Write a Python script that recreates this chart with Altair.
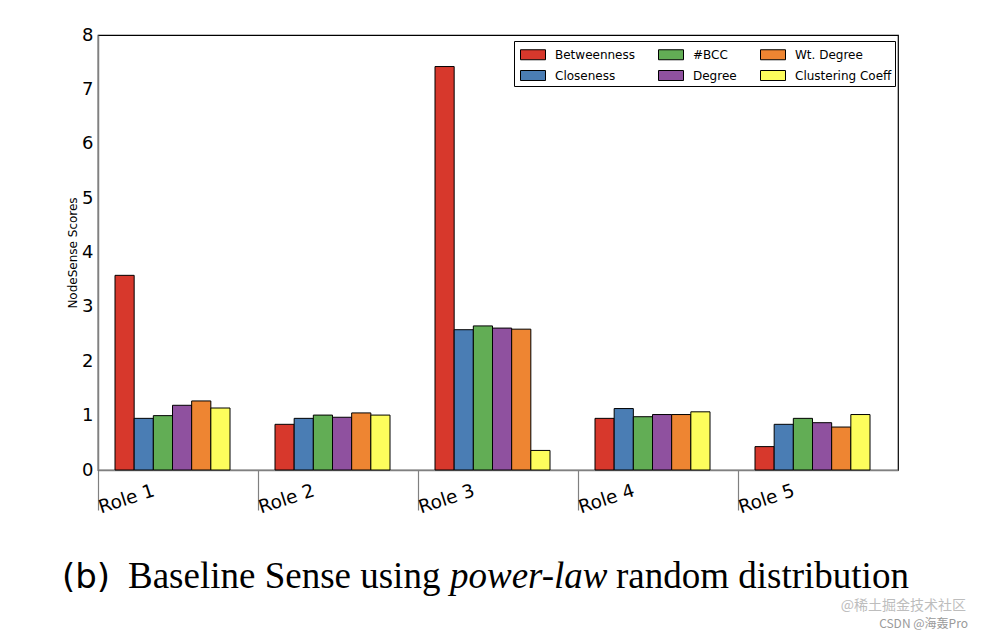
import altair as alt
import pandas as pd

roles = ["Role 1", "Role 2", "Role 3", "Role 4", "Role 5"]
metrics = ["Betweenness", "Closeness", "#BCC", "Degree", "Wt. Degree", "Clustering Coeff"]
colors = ["#d7382c", "#4a7db4", "#62ad55", "#8f519f", "#ee8532", "#fdfd5c"]

betweenness = [3.58, 0.84, 7.42, 0.95, 0.43]
closeness = [0.95, 0.95, 2.58, 1.13, 0.84]
bcc = [1.00, 1.01, 2.65, 0.98, 0.95]
degree = [1.19, 0.97, 2.61, 1.02, 0.87]
wt_degree = [1.27, 1.05, 2.59, 1.02, 0.79]
clustering = [1.14, 1.01, 0.36, 1.07, 1.02]

series = [betweenness, closeness, bcc, degree, wt_degree, clustering]
rows = []
for m, vals in zip(metrics, series):
    for r, v in zip(roles, vals):
        rows.append({"role": r, "metric": m, "score": v})
df = pd.DataFrame(rows)

# legend order (column-major in a 3x2 grid)
legend_order = ["Betweenness", "#BCC", "Wt. Degree", "Closeness", "Degree", "Clustering Coeff"]
legend_colors = [colors[metrics.index(m)] for m in legend_order]

bars = alt.Chart(df).mark_bar(stroke="black", strokeWidth=1).encode(
    x=alt.X("role:N", sort=roles,
            scale=alt.Scale(paddingInner=0, paddingOuter=0),
            axis=alt.Axis(title=None, bandPosition=0, tickSize=40, tickColor="#808080",
                          tickWidth=1.2, domainColor="#808080", domainWidth=1.5,
                          labelAngle=342, labelAlign="left", labelBaseline="alphabetic",
                          labelPadding=3, labelOffset=-77, labelFontSize=18.5,
                          labelFont="DejaVu Sans", labelColor="black")),
    xOffset=alt.XOffset("metric:N", sort=metrics,
                        scale=alt.Scale(domain=metrics, paddingInner=0, paddingOuter=0,
                                        range=[17, 132])),
    y=alt.Y("score:Q",
            scale=alt.Scale(domain=[0, 8], nice=False),
            axis=alt.Axis(title="NodeSense Scores", values=list(range(9)), grid=False,
                          ticks=False, labelPadding=5, labelFontSize=18,
                          labelFont="DejaVu Sans", labelColor="black",
                          titleFont="DejaVu Sans", titleFontSize=12, titleFontWeight="normal",
                          titleColor="black", titlePadding=2,
                          domainColor="#808080", domainWidth=1.5)),
    color=alt.Color("metric:N",
                    scale=alt.Scale(domain=legend_order, range=legend_colors),
                    legend=alt.Legend(title=None, orient="none", legendX=416, legendY=6,
                                      columns=3, direction="horizontal",
                                      symbolType="M-0.7,-0.5L1.8,-0.5L1.8,0.5L-0.7,0.5Z",
                                      symbolSize=400, symbolStrokeColor="black",
                                      symbolStrokeWidth=1, labelFontSize=12,
                                      labelFont="DejaVu Sans", labelColor="black",
                                      labelOffset=17, columnPadding=20, rowPadding=3,
                                      strokeColor="black", fillColor="white", padding=3)),
)

one = alt.Data(values=[{"k": 1}])

def caption(text, x, font, size, style="normal", align="left", color="black", y=553):
    return alt.Chart(one).mark_text(text=text, font=font, fontSize=size, fontStyle=style,
                                    align=align, baseline="alphabetic", color=color).encode(
        x=alt.value(x), y=alt.value(y))

layers = [
    bars,
    caption("(b)", -36, "DejaVu Sans", 34),
    caption("Baseline Sense using", 30, "Liberation Serif", 37),
    caption("power-law", 352, "Liberation Serif", 37, style="italic"),
    caption("random distribution", 518, "Liberation Serif", 37),
    caption("@稀土掘金技术社区", 868, "Noto Sans CJK SC", 14, align="right", color="#bdbdbd", y=575),
    caption("CSDN @海轰Pro", 870, "Noto Sans CJK SC", 12, align="right", color="#9a9a9a", y=593),
]

chart = alt.layer(*layers).properties(
    width=800, height=435,
    background="white",
    padding={"left": 90, "top": 27, "right": 78, "bottom": 162},
    autosize=alt.AutoSizeParams(type="none"),
).configure_view(stroke="black", strokeWidth=1.2)

chart.save("out.html", embed_options={"renderer": "svg", "actions": False})
